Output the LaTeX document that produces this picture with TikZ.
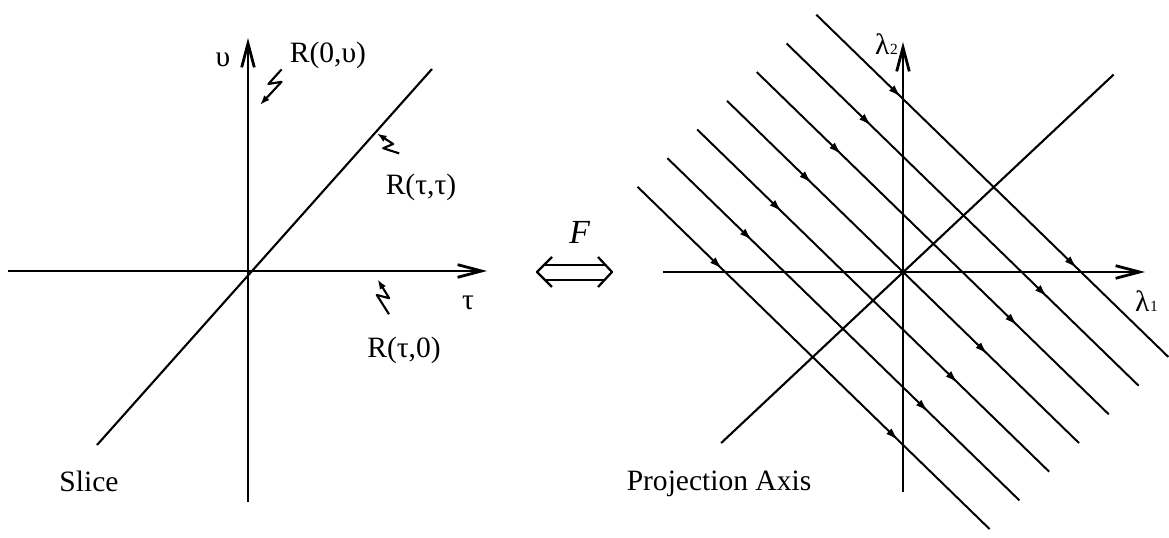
\documentclass[tikz,border=0pt]{standalone}
\usepackage{fontspec}
\setmainfont{Liberation Serif}
\usetikzlibrary{arrows.meta, decorations.markings, calc}

\begin{document}
\begin{tikzpicture}[
    lbl/.style={font=\fontsize{21}{24}\selectfont, inner sep=0pt},
    axisline/.style={line width=2pt, -{Straight Barb[length=17pt, width=9pt]}},
    plainline/.style={line width=1.5pt},
    flowline/.style={line width=1.4pt, postaction={decorate}, decoration={markings,
        mark=at position 0.24 with {\arrow{Latex[length=9pt, width=5.5pt]}},
        mark=at position 0.74 with {\arrow{Latex[length=9pt, width=5.5pt]}}}},
    pointer/.style={line width=1.5pt, line join=round, -{Latex[length=7pt, width=5pt]}}
  ]
  \useasboundingbox (0,0) rectangle (29.225,13.45);

  % Left: the slice plane
  \begin{scope}[shift={(6.2,6.675)}]
    \draw[axisline] (-6.0,0) -- (5.975,0);
    \draw[axisline] (0,-5.775) -- (0,5.825);
    \draw[plainline] (-3.775,-4.35) -- (4.6,5.05);
    \node[lbl] (upsLabel) at (-0.625,5.275) {υ};
    \node[lbl] (tauLabel) at (5.5,-0.8) {τ};
    \node[lbl] (rZeroUps) at (2.0,5.4) {R(0,υ)};
    \node[lbl] (rTauTau) at (4.325,2.1) {R(τ,τ)};
    \node[lbl] (rTauZero) at (3.9,-1.975) {R(τ,0)};
    \node[lbl] (sliceLabel) at (-3.975,-5.25) {Slice};
    % Zigzag pointers
    \draw[pointer] (0.84,5.04) -- (0.51,4.675) -- (0.84,4.73) -- (0.3,4.15);
    \draw[pointer] (3.78,2.94) -- (3.38,3.07) -- (3.63,3.175) -- (3.22,3.44);
    \draw[pointer] (3.525,-1.08) -- (3.22,-0.6) -- (3.53,-0.68) -- (3.24,-0.21);
  \end{scope}

  % Transform between the two pictures
  \node[font=\fontsize{24}{26}\selectfont\itshape, inner sep=0pt] (fLabel) at (14.49,7.64) {F};
  \draw[line width=1.6pt, line join=round] (13.8,7.025) -- (13.425,6.65) -- (13.8,6.275);
  \draw[line width=1.6pt, line join=round] (14.95,7.025) -- (15.3,6.65) -- (14.95,6.275);
  \draw[line width=1.6pt] (13.6,6.825) -- (15.125,6.825);
  \draw[line width=1.6pt] (13.6,6.45) -- (15.125,6.45);

  % Right: projection lines
  \begin{scope}[shift={(22.575,6.65)}]
    \draw[axisline] (-6.0,0) -- (6.05,0);
    \draw[axisline] (0,-5.5) -- (0,5.75);
    \draw[plainline] (-4.545,-4.275) -- (5.265,4.935);
    \foreach \k in {0,...,6} {
      \draw[flowline] ({-2.165-0.745*\k},{6.43-0.717*\k}) -- ({6.635-0.745*\k},{-2.125-0.717*\k});
    }
    \node[lbl] (lamTwo) at (-0.41,5.7) {λ\kern0.5pt{\fontsize{11}{12}\selectfont 2}};
    \node[lbl] (lamOne) at (6.09,-0.74) {λ\kern0.5pt{\fontsize{11}{12}\selectfont 1}};
    \node[lbl] (projLabel) at (-4.6,-5.3) {Projection Axis};
  \end{scope}
\end{tikzpicture}
\end{document}
